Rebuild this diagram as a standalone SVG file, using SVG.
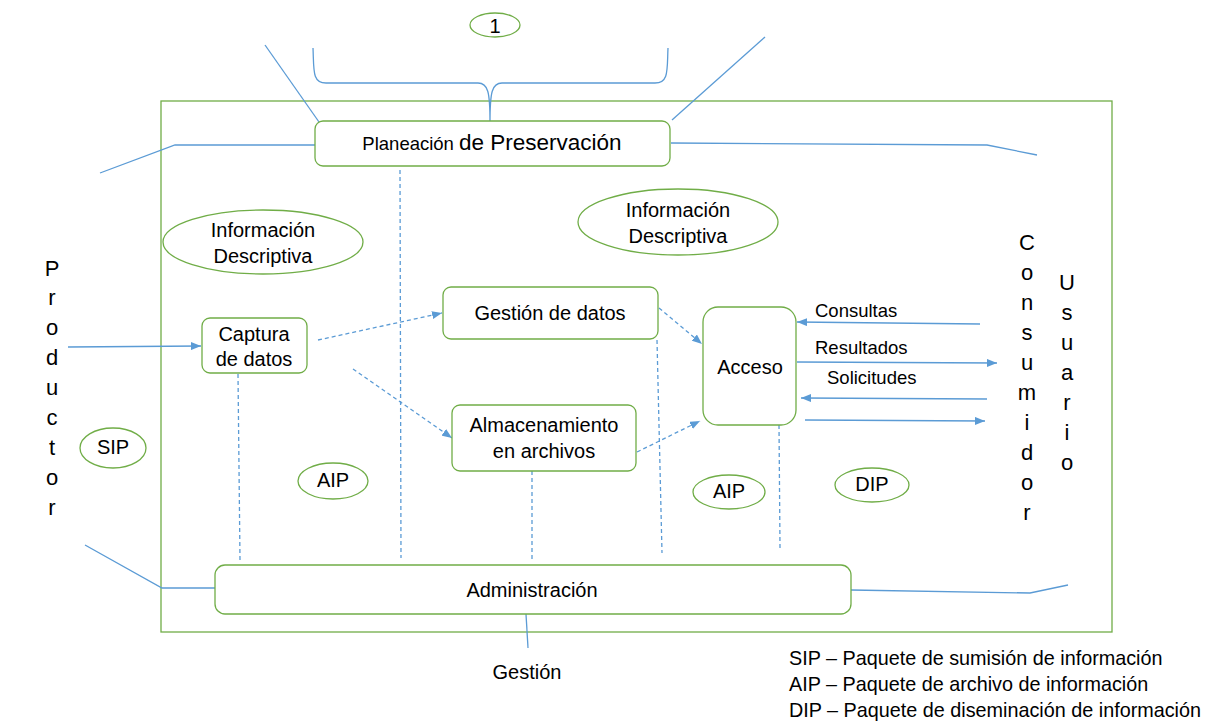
<svg xmlns="http://www.w3.org/2000/svg" width="1221" height="724" viewBox="0 0 1221 724">
<style>
text{font-family:"Liberation Sans",Arial,sans-serif;fill:#000;font-size:20px}
.c{text-anchor:middle}
.g{fill:#fff;stroke:#70AD47;stroke-width:1.3}
.gn{fill:none;stroke:#70AD47;stroke-width:1.3}
.s{fill:none;stroke:#5B9BD5;stroke-width:1.3}
.d{fill:none;stroke:#5B9BD5;stroke-width:1.3;stroke-dasharray:4,3}
.v{font-size:22px;text-anchor:middle}
.lg{font-size:19.8px}
.l{font-size:18.5px}
</style>
<defs>
<marker id="ah" markerWidth="10" markerHeight="8" refX="10" refY="4" orient="auto" markerUnits="userSpaceOnUse">
<path d="M0,0 L10,4 L0,8 Z" fill="#5B9BD5"/>
</marker>
</defs>
<rect id="boundary" x="161" y="101" width="951" height="531" class="gn"/>
<g id="connectors">
<path class="s" d="M313,48 C314,70 312,83 326,83 L478,83 C488,83 490,92 490,122 C490,92 492,83 502,83 L655,83 C669,83 667,70 668,48"/>
<line class="s" x1="265" y1="45" x2="319" y2="122"/>
<line class="s" x1="765" y1="37" x2="672" y2="120"/>
<polyline class="s" points="100,173 175,145 315,145"/>
<polyline class="s" points="671,143 987,145 1037,155"/>
<polyline class="s" points="85,545 162,588 220,588"/>
<polyline class="s" points="851,590 1030,593 1068,585"/>
<line class="s" x1="526" y1="614" x2="528" y2="648"/>
<line class="s" x1="68" y1="347" x2="201" y2="346" marker-end="url(#ah)"/>
<line class="d" x1="318" y1="340" x2="442" y2="313" marker-end="url(#ah)"/>
<line class="d" x1="353" y1="369" x2="452" y2="438" marker-end="url(#ah)"/>
<line class="d" x1="659" y1="308" x2="702" y2="344" marker-end="url(#ah)"/>
<line class="d" x1="637" y1="452" x2="700" y2="421" marker-end="url(#ah)"/>
<line class="s" x1="980" y1="324" x2="797" y2="322" marker-end="url(#ah)"/>
<line class="s" x1="797" y1="362" x2="997" y2="363" marker-end="url(#ah)"/>
<line class="s" x1="987" y1="399" x2="801" y2="398" marker-end="url(#ah)"/>
<line class="s" x1="805" y1="420" x2="985" y2="421" marker-end="url(#ah)"/>
<line class="d" x1="400" y1="170" x2="401" y2="558"/>
<line class="d" x1="238" y1="374" x2="240" y2="560"/>
<line class="d" x1="532" y1="471" x2="532" y2="560"/>
<line class="d" x1="657" y1="340" x2="662" y2="553"/>
<line class="d" x1="779" y1="425" x2="780" y2="548"/>
</g>
<g id="n1"><ellipse cx="495" cy="25" rx="25" ry="12" class="g"/><text x="495" y="33" class="c" font-size="22">1</text></g>
<g id="planeacion"><rect x="315" y="121" width="355" height="45" rx="8" class="g"/><text x="492" y="150" class="c"><tspan font-size="18.5">Planeación </tspan><tspan font-size="22.5">de Preservación</tspan></text></g>
<g id="info1"><ellipse cx="263" cy="242" rx="100" ry="32" class="g"/><text x="263" y="237" class="c" font-size="19.5">Información</text><text x="263" y="263" class="c" font-size="19.5">Descriptiva</text></g>
<g id="info2"><ellipse cx="678" cy="222" rx="100" ry="33" class="g"/><text x="678" y="217" class="c" font-size="19.5">Información</text><text x="678" y="243" class="c" font-size="19.5">Descriptiva</text></g>
<g id="productor">
<text x="52" y="276" class="v">P</text><text x="52" y="305" class="v">r</text><text x="52" y="335" class="v">o</text><text x="52" y="365" class="v">d</text><text x="52" y="395" class="v">u</text><text x="52" y="425" class="v">c</text><text x="52" y="455" class="v">t</text><text x="52" y="485" class="v">o</text><text x="52" y="515" class="v">r</text>
</g>
<g id="consumidor">
<text x="1027" y="250" class="v">C</text><text x="1027" y="280" class="v">o</text><text x="1027" y="310" class="v">n</text><text x="1027" y="340" class="v">s</text><text x="1027" y="370" class="v">u</text><text x="1027" y="400" class="v">m</text><text x="1027" y="430" class="v">i</text><text x="1027" y="460" class="v">d</text><text x="1027" y="490" class="v">o</text><text x="1027" y="520" class="v">r</text>
</g>
<g id="usuario">
<text x="1067" y="290" class="v">U</text><text x="1067" y="320" class="v">s</text><text x="1067" y="350" class="v">u</text><text x="1067" y="380" class="v">a</text><text x="1067" y="410" class="v">r</text><text x="1067" y="440" class="v">i</text><text x="1067" y="470" class="v">o</text>
</g>
<g id="captura"><rect x="202" y="318" width="105" height="55" rx="8" class="g"/><text x="254" y="341" class="c">Captura</text><text x="254" y="366" class="c">de datos</text></g>
<g id="gestion"><rect x="443" y="287" width="215" height="52" rx="8" class="g"/><text x="550" y="320" class="c">Gestión de datos</text></g>
<g id="almacenamiento"><rect x="452" y="405" width="184" height="66" rx="8" class="g"/><text x="544" y="432" class="c">Almacenamiento</text><text x="544" y="458" class="c">en archivos</text></g>
<g id="acceso"><rect x="703" y="307" width="93" height="118" rx="15" class="g"/><text x="750" y="374" class="c" font-size="19">Acceso</text></g>
<g id="labels">
<text x="815" y="317" class="l">Consultas</text>
<text x="815" y="354" class="l">Resultados</text>
<text x="827" y="384" class="l">Solicitudes</text>
</g>
<g id="sip"><ellipse cx="113" cy="448" rx="33" ry="20" class="g"/><text x="113" y="454" class="c" font-size="17">SIP</text></g>
<g id="aip1"><ellipse cx="333" cy="481" rx="35" ry="18" class="g"/><text x="333" y="487" class="c" font-size="17">AIP</text></g>
<g id="aip2"><ellipse cx="729" cy="492" rx="36" ry="17" class="g"/><text x="729" y="498" class="c" font-size="17">AIP</text></g>
<g id="dip"><ellipse cx="872" cy="485" rx="37" ry="17" class="g"/><text x="872" y="491" class="c" font-size="17">DIP</text></g>
<g id="administracion"><rect x="215" y="565" width="636" height="49" rx="10" class="g"/><text x="532" y="597" class="c" font-size="20.5">Administración</text></g>
<g id="gestion-label"><text x="527" y="679" class="c" font-size="20">Gestión</text></g>
<g id="legend">
<text x="789" y="665" class="lg">SIP – Paquete de sumisión de información</text>
<text x="789" y="691" class="lg">AIP – Paquete de archivo de información</text>
<text x="789" y="717" class="lg">DIP – Paquete de diseminación de información</text>
</g>
</svg>
